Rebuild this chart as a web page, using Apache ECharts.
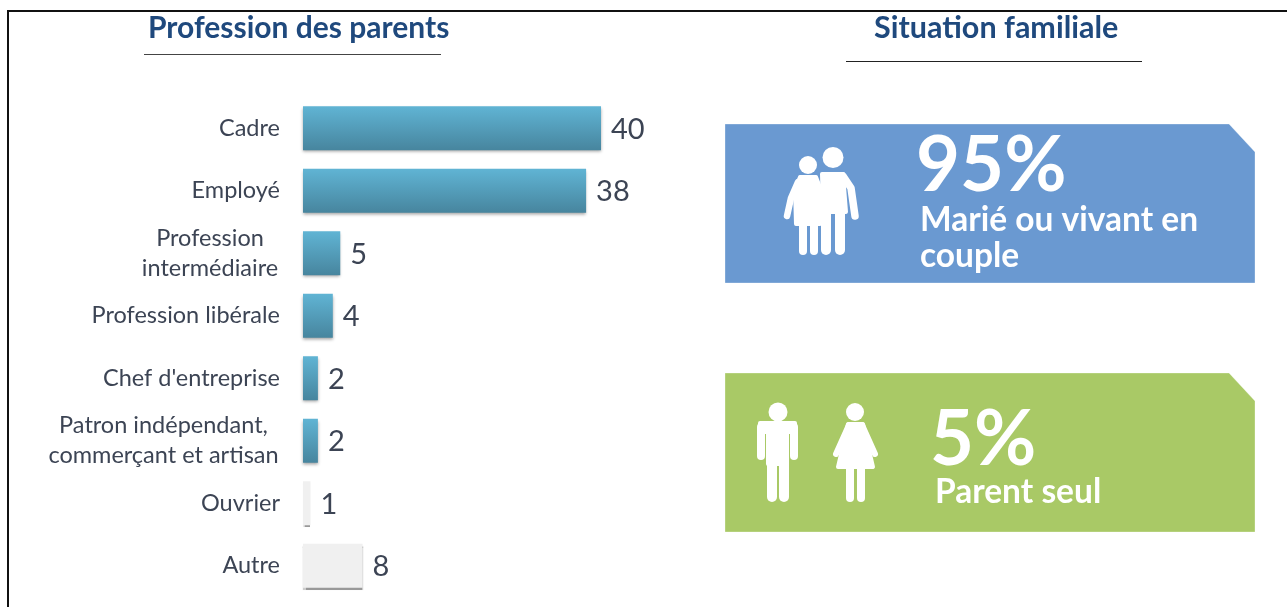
<!DOCTYPE html>
<html>
<head>
<meta charset="utf-8">
<script src="https://cdn.jsdelivr.net/npm/echarts@6/dist/echarts.min.js"></script>
<style>
html,body{margin:0;padding:0;background:#fff}
#container{width:1287px;height:607px}
</style>
</head>
<body>
<div id="container"></div>
<script>
const categories = ['Cadre', 'Employé', 'Profession\nintermédiaire', 'Profession libérale', "Chef d'entreprise", 'Patron indépendant,\ncommerçant et artisan', 'Ouvrier', 'Autre']
const values = [40, 38, 5, 4, 2, 2, 1, 8]
const greyFrom = 6 // Ouvrier et Autre sont en gris
const titles = ['Profession des parents', 'Situation familiale']
const couplePct = '95%'
const coupleText = 'Marié ou vivant en\ncouple'
const seulPct = '5%'
const seulText = 'Parent seul'

const FONT = 'Lato, "Noto Sans", sans-serif'
const WHITE = { fill: '#fff' }
const LABEL = '#3c4454'

const blueBar = new echarts.graphic.LinearGradient(0, 0, 0, 1, [
  { offset: 0, color: '#60b4d4' },
  { offset: 1, color: '#47859e' }
])

function panel(y, color) {
  return {
    type: 'polygon',
    shape: { points: [[725, y], [1229, y], [1255, y + 28], [1255, y + 159], [725, y + 159]] },
    style: { fill: color, stroke: 'rgba(255,255,255,0.3)', lineWidth: 1 }
  }
}
// y = milieu vertical du texte
function txt(x, y, text, size, weight, fill) {
  return {
    type: 'text', x: x, y: y,
    style: { text: text, font: weight + ' ' + size + 'px ' + FONT, fill: fill, verticalAlign: 'middle' }
  }
}
function head(cx, cy, r) {
  return { type: 'circle', shape: { cx: cx, cy: cy, r: r }, style: WHITE }
}
function poly(points) {
  return { type: 'polygon', shape: { points: points }, style: { fill: '#fff', stroke: '#fff', lineWidth: 4, lineJoin: 'round' } }
}
function stroke(points, w) {
  return { type: 'polyline', shape: { points: points }, style: { fill: null, stroke: '#fff', lineWidth: w, lineCap: 'round', lineJoin: 'round' } }
}
function line(x1, x2, y, color, w) {
  return { type: 'line', shape: { x1: x1, y1: y, x2: x2, y2: y }, style: { stroke: color, lineWidth: w } }
}

const icons = [
  // couple
  head(833, 157.5, 10.5),
  poly([[822, 174], [843, 174], [846, 212], [823, 212]]),
  stroke([[843, 176], [851, 188], [855, 216]], 7.5),
  stroke([[826, 210], [826, 250]], 10),
  stroke([[840, 210], [840, 250]], 10),
  { type: 'circle', shape: { cx: 808, cy: 165, r: 10.5 }, style: { fill: '#6a99d1' } },
  head(808, 165, 9),
  poly([[800, 177], [816, 177], [821, 190], [820, 224], [796, 224], [795, 190]]),
  stroke([[798, 182], [791, 198], [787, 216]], 6.5),
  stroke([[803, 224], [803, 251]], 8),
  stroke([[814, 224], [814, 251]], 8),
  // homme
  head(778, 412, 9.5),
  poly([[760, 423], [795, 423], [795, 432], [760, 432]]),
  stroke([[761, 427], [761, 456]], 8),
  stroke([[794, 427], [794, 456]], 8),
  poly([[768, 428], [787, 428], [787, 464], [768, 464]]),
  stroke([[772, 460], [772, 497]], 10),
  stroke([[784, 460], [784, 497]], 10),
  // femme
  head(855, 412, 9),
  poly([[848, 424], [863, 424], [873, 467], [838, 467]]),
  stroke([[849, 425], [836, 454]], 6),
  stroke([[862, 425], [875, 454]], 6),
  stroke([[850, 469], [850, 498]], 8),
  stroke([[861, 469], [861, 498]], 8)
]

let divEle = document.getElementById('container')
let instance = echarts.init(divEle)

instance.setOption({
  animation: false,
  backgroundColor: '#fff',
  grid: { left: 303, width: 298, top: 97, bottom: 10 },
  xAxis: { type: 'value', min: 0, max: 40, show: false },
  yAxis: {
    type: 'category',
    inverse: true,
    data: categories,
    axisLine: { show: false },
    axisTick: { show: false },
    axisLabel: {
      margin: 23,
      align: 'right',
      color: LABEL,
      fontFamily: FONT,
      fontSize: 23.5,
      formatter: function (v) {
        // les deux lignes sont centrees entre elles
        let parts = v.split('\n')
        if (parts.length < 2) return v
        let key = parts[0] === 'Profession' ? 'c1' : 'c2'
        return parts.map(p => '{' + key + '|' + p + '}').join('\n')
      },
      rich: {
        c1: { width: 140, align: 'center', color: LABEL, fontFamily: FONT, fontSize: 23.5, lineHeight: 30 },
        c2: { width: 233, align: 'center', color: LABEL, fontFamily: FONT, fontSize: 23.5, lineHeight: 30 }
      }
    }
  },
  series: [{
    type: 'bar',
    barWidth: 44,
    data: values.map((v, i) => ({
      value: v,
      itemStyle: i >= greyFrom
        ? { color: '#f0f0f0', shadowColor: 'rgba(0,0,0,0.4)', shadowBlur: 1, shadowOffsetY: 2 }
        : { color: blueBar, shadowColor: 'rgba(0,0,0,0.35)', shadowBlur: 3, shadowOffsetY: 2 }
    })),
    label: {
      show: true,
      position: 'right',
      distance: 10,
      offset: [0, 1],
      color: LABEL,
      fontFamily: FONT,
      fontSize: 29
    }
  }],
  graphic: [
    // cadre
    line(7, 1287, 11, '#111', 2),
    { type: 'line', shape: { x1: 8, y1: 10, x2: 8, y2: 607 }, style: { stroke: '#111', lineWidth: 2 } },
    // titres
    txt(148, 28.5, titles[0], 30, 'bold', '#1f497d'),
    line(144, 441, 54.5, '#444', 1),
    txt(874, 28.5, titles[1], 30.5, 'bold', '#1f497d'),
    line(846, 1142, 61.5, '#222', 1),
    // panneaux
    panel(124, '#6a99d1'),
    panel(373, '#a9c966'),
    txt(916, 166, couplePct, 76, 'bold', '#fff'),
    txt(920, 220, coupleText.split('\n')[0], 33.5, 'bold', '#fff'),
    txt(920, 256, coupleText.split('\n')[1], 33.5, 'bold', '#fff'),
    txt(930, 440, seulPct, 76, 'bold', '#fff'),
    txt(935, 492, seulText, 33.5, 'bold', '#fff')
  ].concat(icons)
})
</script>
</body>
</html>
